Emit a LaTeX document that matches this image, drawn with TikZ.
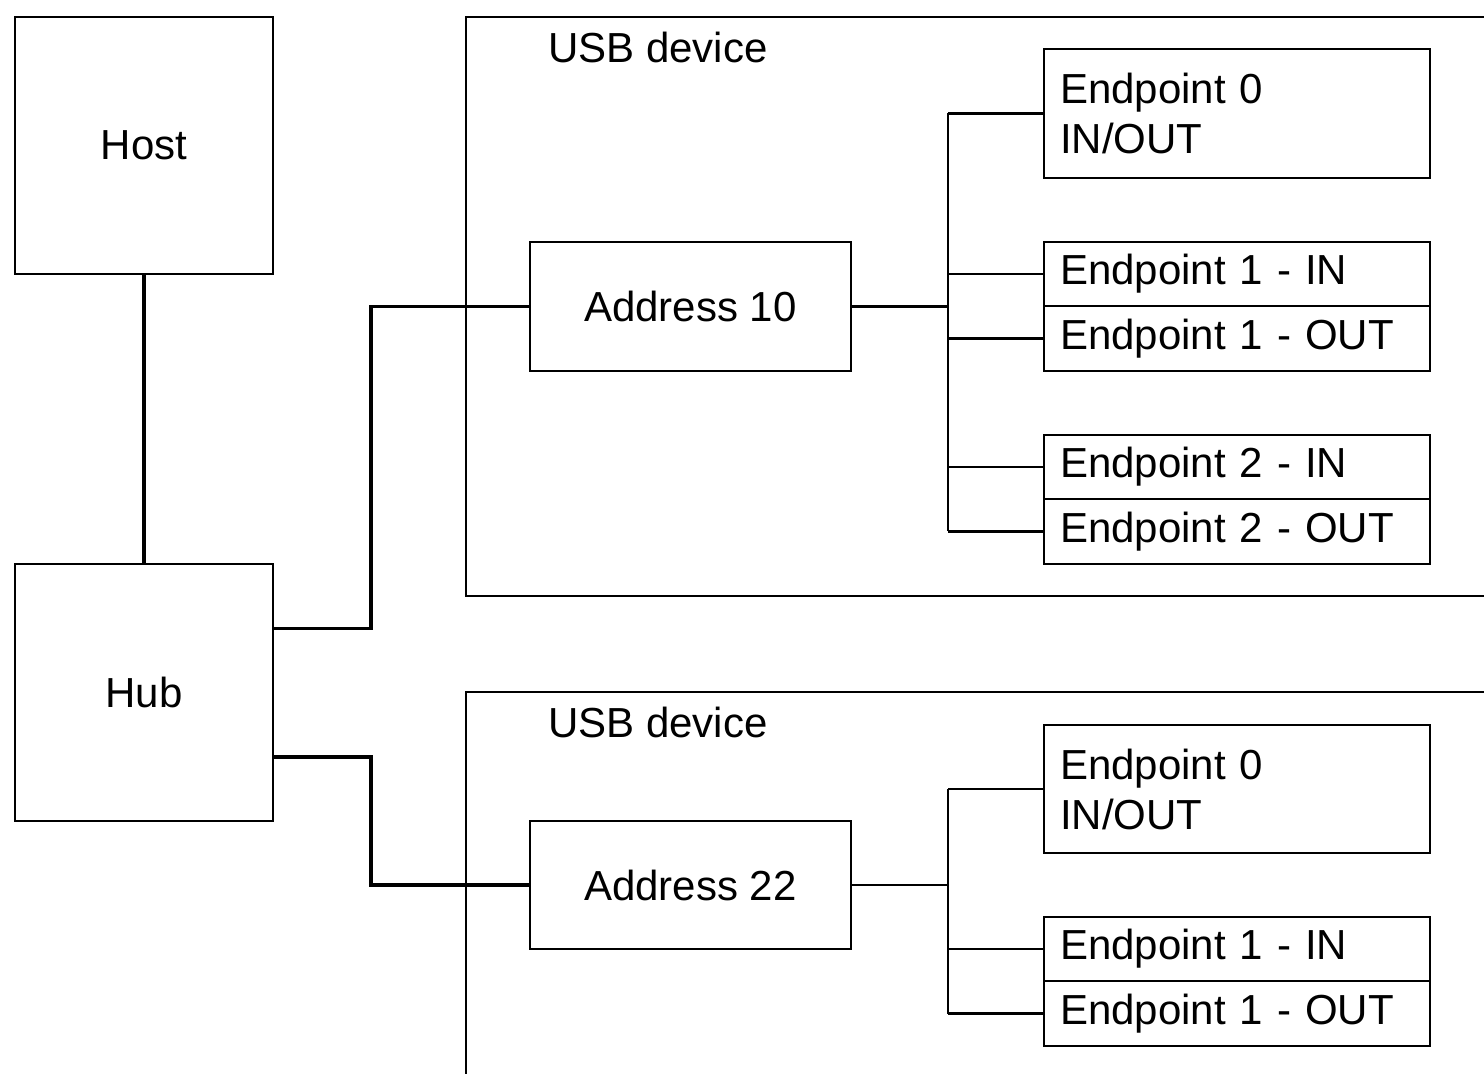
\documentclass[tikz,border=0pt]{standalone}
\usepackage{fontspec}
\setmainfont{Liberation Sans}
\usetikzlibrary{calc}
\begin{document}
\begin{tikzpicture}[x=0.5pt,y=-0.5pt,
  every node/.style={font=\fontsize{21pt}{25pt}\selectfont},
  boxn/.style={draw, line width=1.1pt, inner sep=0pt, align=center},
  epbox/.style={draw, line width=1.1pt, inner xsep=8pt, inner ysep=0pt, text width=177pt, align=left},
  container/.style={draw, line width=1.1pt},
  hubline/.style={line width=1.8pt},
  busline/.style={line width=1.1pt}]
\useasboundingbox (0,0) rectangle (1484,1074);
\clip (0,0) rectangle (1484,1074);
\fill[white] (0,0) rectangle (1484,1074);
% containers
\draw[container] (1500,17) -- (466,17) -- (466,596) -- (1500,596);
\draw[container] (1500,692) -- (466,692) -- (466,1100);
\node[anchor=base west] (lab1) at (541,63) {USB device};
\node[anchor=base west] (lab2) at (541,738) {USB device};
% left boxes
\node[boxn, minimum width=129pt, minimum height=128.5pt] (host) at (144,145.5) {Host};
\node[boxn, minimum width=129pt, minimum height=128.5pt] (hub) at (144,692.5) {Hub};
% address boxes
\node[boxn, minimum width=160.5pt, minimum height=64.5pt] (a10) at (690.5,306.5) {Address 10};
\node[boxn, minimum width=160.5pt, minimum height=64pt] (a22) at (690.5,885) {Address 22};
% endpoints device 1
\node[epbox, minimum height=64.5pt] (e0) at (1237,113.5) {Endpoint 0\\IN/OUT};
\node[epbox, minimum height=32pt] (e1i) at (1237,274) {Endpoint 1 - IN};
\node[epbox, minimum height=32.5pt] (e1o) at (1237,338.5) {Endpoint 1 - OUT};
\node[epbox, minimum height=32pt] (e2i) at (1237,467) {Endpoint 2 - IN};
\node[epbox, minimum height=32.5pt] (e2o) at (1237,531.5) {Endpoint 2 - OUT};
% endpoints device 2
\node[epbox, minimum height=64pt] (f0) at (1237,789) {Endpoint 0\\IN/OUT};
\node[epbox, minimum height=32pt] (f1i) at (1237,949) {Endpoint 1 - IN};
\node[epbox, minimum height=32.5pt] (f1o) at (1237,1013.5) {Endpoint 1 - OUT};
% host-hub
\draw[line width=1.6pt] (host.south) -- (hub.north);
% hub to addresses
\draw[hubline] ([yshift=32pt]hub.east) -- ++(97,0) |- (a10.west);
\draw[hubline] ([yshift=-32.25pt]hub.east) -- ++(97,0) |- (a22.west);
% bus device 1
\coordinate (b1) at ($(a10.east)+(96,0)$);
\draw[busline] (a10.east) -- (b1);
\draw[busline] (b1 |- e0.west) -- (b1 |- e2o.west);
\foreach \n in {e0,e1i,e1o,e2i,e2o} \draw[busline] (b1 |- \n.west) -- (\n.west);
% bus device 2
\coordinate (b2) at ($(a22.east)+(96,0)$);
\draw[busline] (a22.east) -- (b2);
\draw[busline] (b2 |- f0.west) -- (b2 |- f1o.west);
\foreach \n in {f0,f1i,f1o} \draw[busline] (b2 |- \n.west) -- (\n.west);
\end{tikzpicture}
\end{document}
